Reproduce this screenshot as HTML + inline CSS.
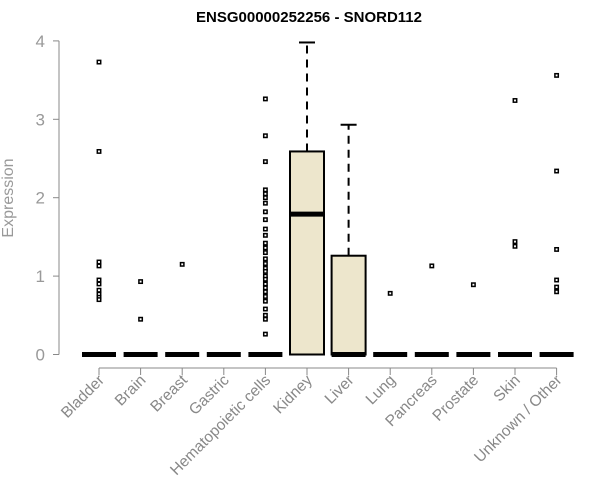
<!DOCTYPE html>
<html><head><meta charset="utf-8"><style>
body{margin:0;background:#fff;}
svg{display:block;font-family:"Liberation Sans",Arial,sans-serif;}
</style></head><body>
<svg id="chart" width="600" height="500" viewBox="0 0 600 500">
<text x="309" y="22" text-anchor="middle" font-size="15" font-weight="bold">ENSG00000252256 - SNORD112</text>
<text transform="translate(13,198) rotate(-90)" text-anchor="middle" font-size="16" fill="#999">Expression</text>
<g id="axes"></g><g id="marks"></g>
</svg>
<script>
const categories=["Bladder","Brain","Breast","Gastric","Hematopoietic cells","Kidney","Liver","Lung","Pancreas","Prostate","Skin","Unknown / Other"];
const q1=[0,0,0,0,0,0,0,0,0,0,0,0];
const medians=[0,0,0,0,0,1.79,0,0,0,0,0,0];
const q3=[0,0,0,0,0,2.59,1.26,0,0,0,0,0];
const whiskerHigh=[0,0,0,0,0,3.98,2.93,0,0,0,0,0];
const outliers=[[3.73,2.59,1.18,1.13,0.95,0.9,0.82,0.77,0.73,0.7],[0.93,0.45],[1.15],[],[3.26,2.79,2.46,2.1,2.05,2.0,1.93,1.82,1.72,1.6,1.52,1.42,1.36,1.3,1.22,1.16,1.1,1.06,1.0,0.96,0.9,0.85,0.8,0.74,0.68,0.58,0.5,0.45,0.26],[],[],[0.78],[1.13],[0.89],[3.24,1.44,1.38],[3.56,2.34,1.34,0.95,0.86,0.8]];
const yTicks=[0,1,2,3,4];
const NS="http://www.w3.org/2000/svg";
const y=v=>354.5-v*78.4;
const x=i=>99+i*41.6;
const axes=document.getElementById('axes'),marks=document.getElementById('marks');
function mk(p,tag,a){const e=document.createElementNS(NS,tag);for(const k in a)e.setAttribute(k,a[k]);p.appendChild(e);return e;}
let yl=mk(axes,'line',{x1:59,x2:59,y1:y(4),y2:y(0),stroke:'#888'});


yTicks.forEach(t=>{
 let l=mk(axes,'line',{x1:53,x2:59,y1:y(t),y2:y(t),stroke:'#888'});
 
 
 let tx=mk(axes,'text',{x:45,y:y(t)+6,'text-anchor':'end','font-size':17,fill:'#999'});
 tx.textContent=t;
 
 
});
let xl=mk(axes,'line',{x1:x(0),x2:x(categories.length-1),y1:368,y2:368,stroke:'#888'});


categories.forEach((c,i)=>{
 let l=mk(axes,'line',{x1:x(i),x2:x(i),y1:368,y2:375,stroke:'#888'});
 
 
 let t=mk(axes,'text',{transform:`translate(${x(i)+6},${381}) rotate(-45)`,'text-anchor':'end','font-size':15.5,fill:'#888'});
 t.textContent=c;
 
 
 const cx=x(i),hw=17;
 const g=mk(marks,'g',{});
 
 
 if(whiskerHigh[i]>q3[i]){
  mk(g,'line',{x1:cx,x2:cx,y1:y(q3[i]),y2:y(whiskerHigh[i]),stroke:'#000','stroke-width':2,'stroke-dasharray':'8,6'});
  mk(g,'line',{x1:cx-8,x2:cx+8,y1:y(whiskerHigh[i]),y2:y(whiskerHigh[i]),stroke:'#000','stroke-width':2});
 }
 if(q3[i]>q1[i]) mk(g,'rect',{x:cx-hw,y:y(q3[i]),width:2*hw,height:y(q1[i])-y(q3[i]),fill:'#ede6cc',stroke:'#000','stroke-width':2});
 mk(g,'line',{x1:cx-hw,x2:cx+hw,y1:y(medians[i]),y2:y(medians[i]),stroke:'#000','stroke-width':5});
 outliers[i].forEach(v=>{
  let p=mk(g,'rect',{x:cx-1.7,y:y(v)-1.7,width:3.4,height:3.4,fill:'#fff',stroke:'#000','stroke-width':1.5});
  
  
 });
});
</script>
</body></html>
